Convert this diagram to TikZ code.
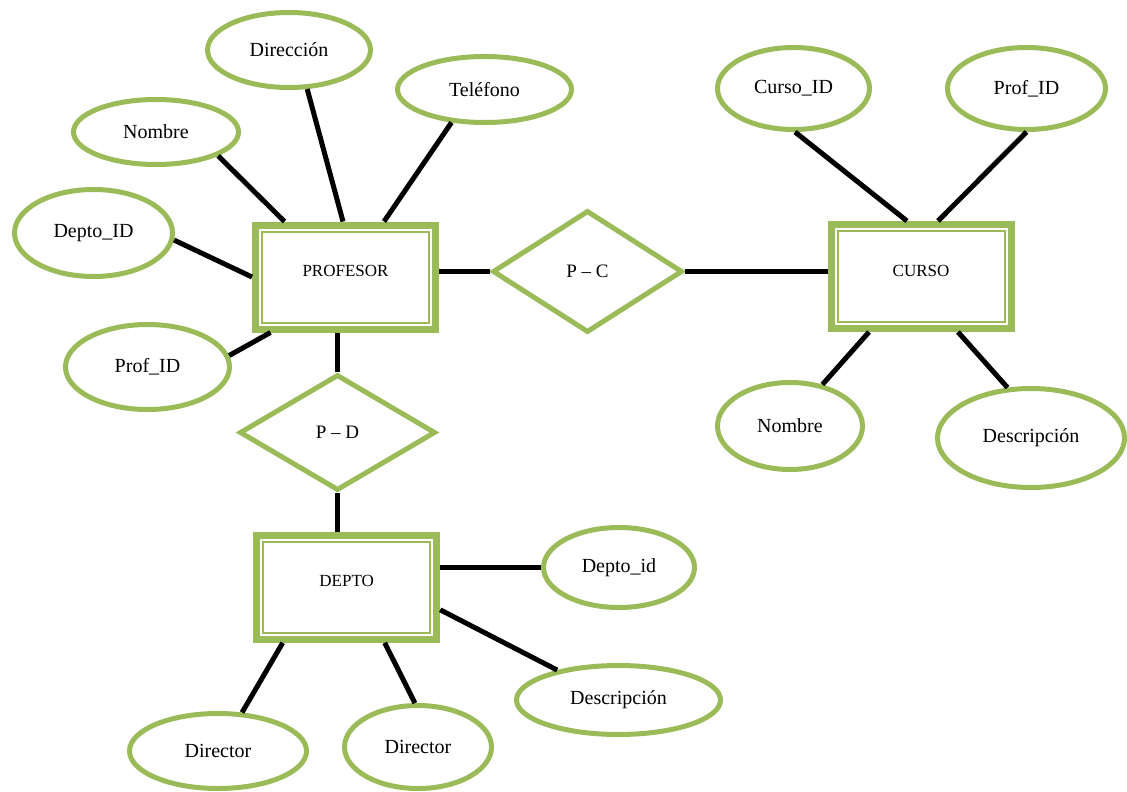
\documentclass[tikz,border=0pt]{standalone}
\usepackage{fontspec}
\setmainfont{Liberation Serif}
\usetikzlibrary{shapes.geometric}
\definecolor{verde}{HTML}{9BBB59}
\tikzset{
    entidad/.style={draw=verde, line width=7pt, minimum width=180pt, minimum height=104pt,
        inner sep=0pt, text depth=12pt, font=\fontsize{17}{20}\selectfont,
        path picture={\draw[verde, line width=2pt]
            ([shift={(6.5pt,6.5pt)}]path picture bounding box.south west) rectangle
            ([shift={(-6.5pt,-6.5pt)}]path picture bounding box.north east);}},
    relacion/.style={diamond, draw=verde, line width=5pt, inner sep=0pt,
        font=\fontsize{19}{22}\selectfont},
    atributo/.style={ellipse, draw=verde, line width=5pt, inner sep=0pt,
        font=\fontsize{20}{24}\selectfont},
    enlace/.style={line width=5pt, black}
}
\begin{document}
\begin{tikzpicture}[x=1pt, y=-1pt]
    \useasboundingbox (0,0) rectangle (1127,792);

    % Entidades
    \node[entidad] (profesor) at (345.5,277) {PROFESOR};
    \node[entidad] (curso) at (921,276.5) {CURSO};
    \node[entidad] (depto) at (346.7,587.3) {DEPTO};

    % Relaciones
    \node[relacion, minimum width=190pt, minimum height=122pt] (pc) at (587.5,271.5) {P -- C};
    \node[relacion, minimum width=196pt, minimum height=116pt] (pd) at (337.5,432.5) {P -- D};

    % Atributos de PROFESOR
    \node[atributo, minimum width=163pt, minimum height=75pt] (direccion) at (289,50) {Dirección};
    \node[atributo, minimum width=165pt, minimum height=65pt] (nombrep) at (156,132) {Nombre};
    \node[atributo, minimum width=174pt, minimum height=66pt] (telefono) at (484.5,89.5) {Teléfono};
    \node[atributo, minimum width=158pt, minimum height=87pt] (deptoidp) at (93.5,233) {Depto\_ID};
    \node[atributo, minimum width=164pt, minimum height=85pt] (profidp) at (147.5,367) {Prof\_ID};

    % Atributos de CURSO
    \node[atributo, minimum width=152pt, minimum height=82pt] (cursoid) at (793.5,88.5) {Curso\_ID};
    \node[atributo, minimum width=158pt, minimum height=82pt] (profidc) at (1026.5,88.5) {Prof\_ID};
    \node[atributo, minimum width=145pt, minimum height=87pt] (nombrec) at (790,426) {Nombre};
    \node[atributo, minimum width=187pt, minimum height=99pt] (descc) at (1031,438) {Descripción};

    % Atributos de DEPTO
    \node[atributo, minimum width=151pt, minimum height=80pt] (deptoid) at (619,567.5) {Depto\_id};
    \node[atributo, minimum width=204pt, minimum height=69pt] (descd) at (618.5,700) {Descripción};
    \node[atributo, minimum width=177pt, minimum height=75pt] (director) at (218,751) {Director};
    \node[atributo, minimum width=147pt, minimum height=83pt] (directorb) at (418,747) {Director};

    % Conexiones de PROFESOR
    \draw[enlace] (nombrep.-21) -- ([xshift=-61pt]profesor.north);
    \draw[enlace] (direccion.-65) -- ([xshift=-2.5pt]profesor.north);
    \draw[enlace] (telefono.-135) -- ([xshift=38.5pt]profesor.north);
    \draw[enlace] (deptoidp.-5) -- (profesor.west);
    \draw[enlace] (profidp.8) -- ([xshift=-75pt]profesor.south);
    \draw[enlace] (pc.west) -- (pc.west -| profesor.east);
    \draw[enlace] (pd.north) -- (pd.north |- profesor.south);

    % Conexiones de CURSO
    \draw[enlace] (pc.east) -- (pc.east -| curso.west);
    \draw[enlace] (cursoid.-88) -- ([xshift=-14pt]curso.north);
    \draw[enlace] (profidc.-90) -- ([xshift=17pt]curso.north);
    \draw[enlace] (nombrec.52) -- ([xshift=-52pt]curso.south);
    \draw[enlace] (descc.115) -- ([xshift=37pt]curso.south);

    % Conexiones de DEPTO
    \draw[enlace] (pd.south) -- (pd.south |- depto.north);
    \draw[enlace] (deptoid.west) -- (deptoid.west -| depto.east);
    \draw[enlace] (descd.154) -- ([yshift=-22.5pt]depto.east);
    \draw[enlace] (director.58) -- ([xshift=-64pt]depto.south);
    \draw[enlace] (directorb.94) -- ([xshift=38pt]depto.south);
\end{tikzpicture}
\end{document}
